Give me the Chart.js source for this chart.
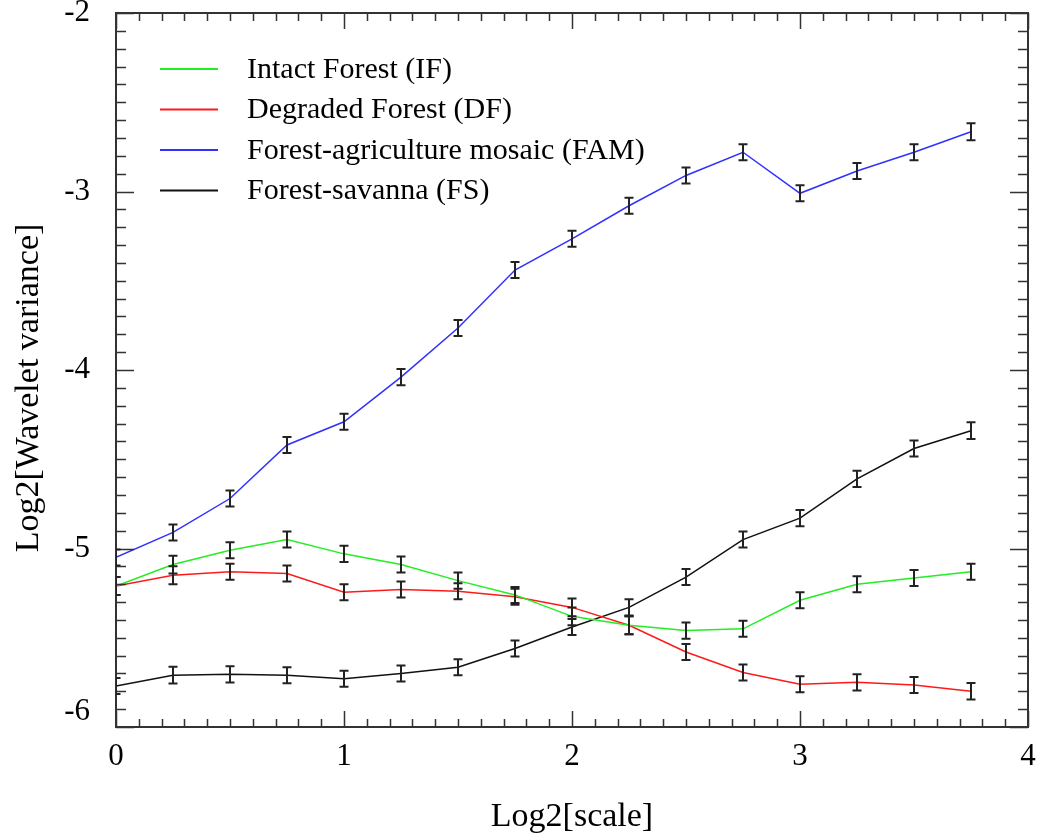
<!DOCTYPE html>
<html>
<head>
<meta charset="utf-8">
<script src="https://cdn.jsdelivr.net/npm/chart.js@4.4.1/dist/chart.umd.min.js"></script>
<style>
  html, body { margin: 0; padding: 0; background: #fff; }
  #wrap { width: 1040px; height: 840px; }
</style>
</head>
<body>
<div id="wrap"><canvas id="chart" width="1040" height="840"></canvas></div>
<script>
// Log2[scale] positions
const scales = [0, 0.25, 0.5, 0.75, 1, 1.25, 1.5, 1.75, 2, 2.25, 2.5, 2.75, 3, 3.25, 3.5, 3.75];

// Log2[wavelet variance] per landscape type
const intactForest = [-5.21, -5.09, -5.01, -4.95, -5.03, -5.09, -5.18, -5.26, -5.38, -5.43, -5.46, -5.45, -5.29, -5.20, -5.165, -5.13];
const degradedForest = [-5.21, -5.15, -5.13, -5.14, -5.245, -5.23, -5.24, -5.27, -5.33, -5.43, -5.58, -5.695, -5.76, -5.75, -5.765, -5.80];
const agricultureMosaic = [-5.05, -4.91, -4.72, -4.42, -4.29, -4.04, -3.765, -3.44, -3.265, -3.08, -2.91, -2.78, -3.01, -2.885, -2.78, -2.665];
const forestSavanna = [-5.77, -5.71, -5.705, -5.71, -5.73, -5.70, -5.665, -5.56, -5.44, -5.33, -5.16, -4.95, -4.83, -4.61, -4.44, -4.34];

// half-length of the error bars
const intactErr = [0.05, 0.05, 0.045, 0.045, 0.045, 0.045, 0.045, 0.045, 0.05, 0.05, 0.045, 0.045, 0.045, 0.045, 0.045, 0.045];
const degradedErr = [0.05, 0.05, 0.045, 0.045, 0.045, 0.045, 0.045, 0.045, 0.05, 0.05, 0.045, 0.045, 0.045, 0.045, 0.045, 0.046];
const mosaicErr = [0.045, 0.045, 0.045, 0.045, 0.045, 0.045, 0.045, 0.045, 0.045, 0.045, 0.045, 0.045, 0.045, 0.045, 0.045, 0.048];
const savannaErr = [0.045, 0.047, 0.045, 0.045, 0.045, 0.045, 0.045, 0.045, 0.045, 0.045, 0.045, 0.045, 0.045, 0.045, 0.045, 0.047];

const xTicks = [0, 1, 2, 3, 4];
const yTicks = [-6, -5, -4, -3, -2];
const yTitle = 'Log2[Wavelet variance]';

const serif = "'Liberation Serif', 'DejaVu Serif', serif";

function pts(arr) {
  return scales.map((s, i) => ({ x: s, y: arr[i] }));
}

// box round the plot with inward ticks on all four sides
const frameTicks = {
  id: 'frameTicks',
  afterDatasetsDraw(chart) {
    const { ctx, chartArea: a } = chart;
    const xs = chart.scales.x, ys = chart.scales.y;
    ctx.save();
    ctx.strokeStyle = '#333';
    ctx.lineWidth = 1.5;
    ctx.beginPath();
    for (let k = 0; k <= 40; k++) {
      const len = k % 10 === 0 ? 16 : 8;
      const px = Math.round(xs.getPixelForValue(xs.min + k / 10)) + 0.5;
      ctx.moveTo(px, a.bottom); ctx.lineTo(px, a.bottom - len);
      ctx.moveTo(px, a.top); ctx.lineTo(px, a.top + len);
      const py = Math.round(ys.getPixelForValue(ys.min + k / 10)) + 0.5;
      ctx.moveTo(a.left, py); ctx.lineTo(a.left + len + 2, py);
      ctx.moveTo(a.right, py); ctx.lineTo(a.right - len - 2, py);
    }
    ctx.stroke();
    ctx.lineWidth = 2;
    ctx.strokeRect(a.left, a.top, a.right - a.left, a.bottom - a.top);
    ctx.restore();
  }
};

// vertical error bars with caps, read from dataset.errors
const errorBars = {
  id: 'errorBars',
  afterDatasetsDraw(chart) {
    const { ctx, chartArea: a } = chart;
    const xs = chart.scales.x, ys = chart.scales.y;
    ctx.save();
    ctx.beginPath();
    ctx.rect(a.left, a.top, a.right - a.left, a.bottom - a.top);
    ctx.clip();
    ctx.strokeStyle = '#222';
    ctx.lineWidth = 2;
    chart.data.datasets.forEach(ds => {
      ds.data.forEach((p, i) => {
        const e = ds.errors[i];
        const x = xs.getPixelForValue(p.x);
        const y1 = ys.getPixelForValue(p.y + e);
        const y2 = ys.getPixelForValue(p.y - e);
        ctx.beginPath();
        ctx.moveTo(x, y1); ctx.lineTo(x, y2);
        ctx.moveTo(x - 4.5, y1); ctx.lineTo(x + 4.5, y1);
        ctx.moveTo(x - 4.5, y2); ctx.lineTo(x + 4.5, y2);
        ctx.stroke();
      });
    });
    ctx.restore();
  }
};

// legend inside the top-left of the plot, and the y title
const insetLegend = {
  id: 'insetLegend',
  afterDraw(chart) {
    const { ctx, chartArea: a } = chart;
    ctx.save();
    ctx.font = '30px ' + serif;
    ctx.textBaseline = 'middle';
    ctx.textAlign = 'left';
    chart.data.datasets.forEach((ds, i) => {
      const y = a.top + 56 + i * 40.5;
      const x0 = a.left + 44;
      ctx.strokeStyle = ds.borderColor;
      ctx.lineWidth = 2;
      ctx.beginPath();
      ctx.moveTo(x0, y); ctx.lineTo(x0 + 58, y);
      ctx.stroke();
      ctx.fillStyle = '#000';
      ctx.fillText(ds.label, x0 + 87, y + 1);
    });
    // y axis title, sits a bit below the middle of the axis
    ctx.translate(29, (a.top + a.bottom) / 2 + 18);
    ctx.rotate(-Math.PI / 2);
    ctx.font = '34px ' + serif;
    ctx.textAlign = 'center';
    ctx.fillText(yTitle, 0, 0);
    ctx.restore();
  }
};

const ctx = document.getElementById('chart').getContext('2d');
new Chart(ctx, {
  type: 'line',
  data: {
    datasets: [
      { label: 'Intact Forest (IF)', data: pts(intactForest), errors: intactErr, borderColor: '#22ee22' },
      { label: 'Degraded Forest (DF)', data: pts(degradedForest), errors: degradedErr, borderColor: '#ff1a1a' },
      { label: 'Forest-agriculture mosaic (FAM)', data: pts(agricultureMosaic), errors: mosaicErr, borderColor: '#3030ff' },
      { label: 'Forest-savanna (FS)', data: pts(forestSavanna), errors: savannaErr, borderColor: '#111' }
    ]
  },
  options: {
    responsive: false,
    animation: false,
    layout: { padding: { top: 13, right: 12, left: 0, bottom: 0 } },
    elements: {
      point: { radius: 0, hoverRadius: 0 },
      line: { borderWidth: 1.5, tension: 0, fill: false }
    },
    plugins: { legend: { display: false }, tooltip: { enabled: false } },
    scales: {
      x: {
        type: 'linear', min: 0, max: 4,
        grid: { display: false, drawTicks: false },
        border: { display: false },
        afterBuildTicks: s => { s.ticks = xTicks.map(v => ({ value: v })); },
        ticks: { padding: 11, color: '#000', font: { family: serif, size: 31 } },
        title: { display: true, text: 'Log2[scale]', color: '#000', font: { family: serif, size: 34 }, padding: { top: 0, bottom: 3 } },
        afterFit: s => { s.height = 113; s.paddingLeft = 0; s.paddingRight = 0; }
      },
      y: {
        type: 'linear', min: -6, max: -2,
        grid: { display: false, drawTicks: false },
        border: { display: false },
        afterBuildTicks: s => { s.ticks = yTicks.map(v => ({ value: v })); },
        ticks: {
          padding: 26, color: '#000', font: { family: serif, size: 31, lineHeight: 1 },
          // the bottom label is lifted off the corner
          callback: v => v === -6 ? ['-6', ''] : String(v)
        },
        afterFit: s => { s.width = 116; s.paddingTop = 0; s.paddingBottom = 0; }
      }
    }
  },
  plugins: [frameTicks, errorBars, insetLegend]
});
</script>
</body>
</html>
